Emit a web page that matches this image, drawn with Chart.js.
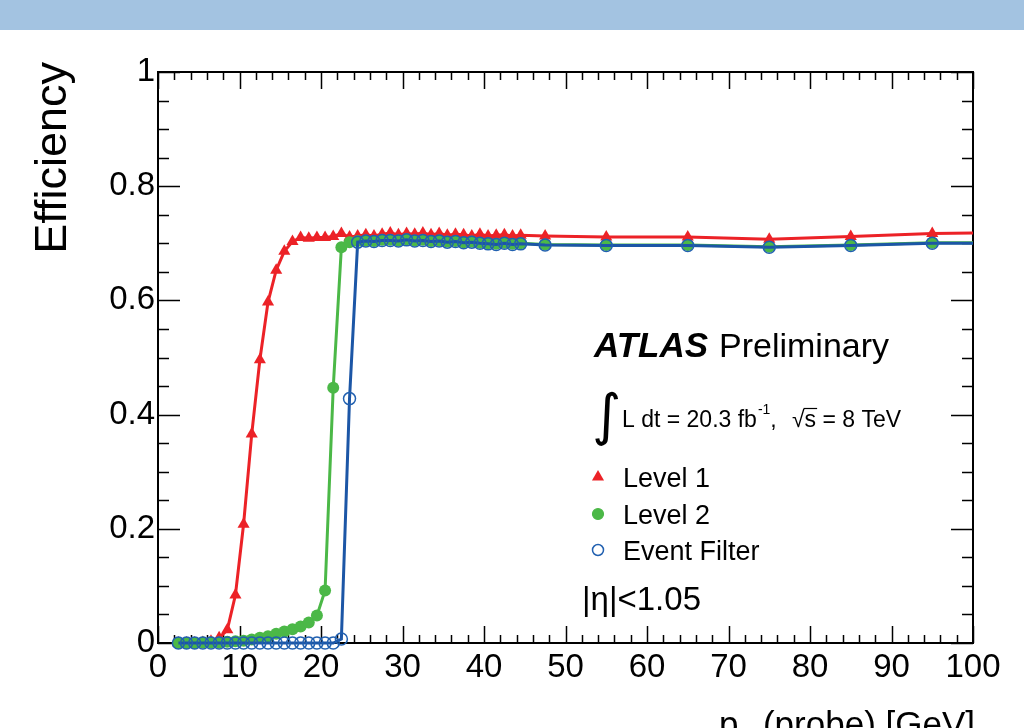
<!DOCTYPE html>
<html lang="en">
<head>
    <meta charset="UTF-8">
    <title>Trigger efficiency vs probe pT</title>
    <script src="https://cdn.jsdelivr.net/npm/chart.js"></script>
    <style>
        html, body { margin: 0; padding: 0; background: #fff; }
        .band { position: absolute; left: 0; top: 0; width: 1024px; height: 30px; background: #a3c3e1; }
        .wrap { position: absolute; left: 0; top: 0; width: 1024px; height: 728px; }
    </style>
</head>
<body>
<div class="band"></div>
<div class="wrap"><canvas id="effChart" width="1024" height="728"></canvas></div>

<script>
    // bin centres in GeV (last entry = right edge of the last bin, line only)
    const ptBins = [
        2.5, 3.5, 4.5, 5.5, 6.5, 7.5, 8.5, 9.5, 10.5, 11.5,
        12.5, 13.5, 14.5, 15.5, 16.5, 17.5, 18.5, 19.5, 20.5, 21.5,
        22.5, 23.5, 24.5, 25.5, 26.5, 27.5, 28.5, 29.5, 30.5, 31.5,
        32.5, 33.5, 34.5, 35.5, 36.5, 37.5, 38.5, 39.5, 40.5, 41.5,
        42.5, 43.5, 44.5, 47.5, 55, 65, 75, 85, 95, 100
    ];

    const level1 = [
        0.000, 0.000, 0.000, 0.001, 0.003, 0.009, 0.023, 0.084, 0.208, 0.366,
        0.496, 0.597, 0.653, 0.686, 0.703, 0.710, 0.709, 0.710, 0.710, 0.712,
        0.717, 0.711, 0.713, 0.715, 0.713, 0.716, 0.718, 0.715, 0.717, 0.716,
        0.718, 0.715, 0.717, 0.714, 0.716, 0.715, 0.713, 0.716, 0.713, 0.714,
        0.715, 0.713, 0.714, 0.713, 0.711, 0.711, 0.707, 0.712, 0.717, 0.718
    ];

    const level2 = [
        0.000, 0.000, 0.000, 0.001, 0.001, 0.001, 0.002, 0.003, 0.004, 0.006,
        0.009, 0.012, 0.016, 0.020, 0.024, 0.029, 0.036, 0.048, 0.092, 0.447,
        0.693, 0.702, 0.704, 0.705, 0.704, 0.706, 0.706, 0.705, 0.707, 0.705,
        0.706, 0.704, 0.705, 0.703, 0.704, 0.702, 0.703, 0.701, 0.700, 0.699,
        0.701, 0.699, 0.700, 0.698, 0.697, 0.697, 0.694, 0.697, 0.701, 0.701
    ];

    const eventFilter = [
        0.000, 0.000, 0.000, 0.000, 0.000, 0.000, 0.000, 0.000, 0.000, 0.000,
        0.000, 0.000, 0.000, 0.000, 0.000, 0.000, 0.000, 0.000, 0.000, 0.000,
        0.007, 0.428, 0.702, 0.704, 0.703, 0.705, 0.705, 0.704, 0.706, 0.704,
        0.705, 0.703, 0.704, 0.702, 0.703, 0.701, 0.702, 0.700, 0.699, 0.698,
        0.700, 0.698, 0.699, 0.697, 0.696, 0.696, 0.693, 0.696, 0.700, 0.700
    ];

    const seriesNames = ['Level 1', 'Level 2', 'Event Filter'];
    const xRange = [0, 100];
    const yRange = [0, 1];
    const xMajor = 10, xMinor = 2;
    const yMajor = 0.2, yMinor = 0.05;

    const RED = '#ec2227';
    const GREEN = '#4bb847';
    const BLUE = '#1c56a6';
    const FONT = "'Liberation Sans', Arial, sans-serif";

    const toPoints = ys => ptBins.map((x, i) => ({ x: x, y: ys[i] }));
    const markerSize = r => c => (c.dataIndex === ptBins.length - 1 ? 0 : r);
    const rootLabel = v => String(parseFloat(Number(v).toFixed(2)));

    // ROOT style frame with inward ticks on all four sides
    const rootFrame = {
        id: 'rootFrame',
        beforeDatasetsDraw(chart) {
            const { ctx, chartArea: a, scales: { x, y } } = chart;
            ctx.save();
            ctx.strokeStyle = '#000';
            ctx.lineWidth = 2;
            ctx.strokeRect(a.left, a.top, a.right - a.left, a.bottom - a.top);
            ctx.lineWidth = 1.5;
            ctx.beginPath();
            const nx = Math.round((xRange[1] - xRange[0]) / xMinor);
            for (let k = 0; k <= nx; k++) {
                const v = xRange[0] + k * xMinor;
                const px = Math.round(x.getPixelForValue(v)) + 0.5;
                const len = (k % (xMajor / xMinor) === 0) ? 17 : 8;
                ctx.moveTo(px, a.bottom); ctx.lineTo(px, a.bottom - len);
                ctx.moveTo(px, a.top); ctx.lineTo(px, a.top + len);
            }
            const ny = Math.round((yRange[1] - yRange[0]) / yMinor);
            for (let k = 0; k <= ny; k++) {
                const v = yRange[0] + k * yMinor;
                const py = Math.round(y.getPixelForValue(v)) + 0.5;
                const len = (k % Math.round(yMajor / yMinor) === 0) ? 22 : 11;
                ctx.moveTo(a.left, py); ctx.lineTo(a.left + len, py);
                ctx.moveTo(a.right, py); ctx.lineTo(a.right - len, py);
            }
            ctx.stroke();
            ctx.restore();
        }
    };

    // titles, ATLAS label and the legend
    const atlasText = {
        id: 'atlasText',
        afterDraw(chart) {
            const { ctx } = chart;
            const ds = chart.data.datasets;
            ctx.save();
            ctx.fillStyle = '#000';
            ctx.strokeStyle = '#000';
            ctx.textBaseline = 'alphabetic';

            // y title
            ctx.save();
            ctx.translate(66, 62);
            ctx.rotate(-Math.PI / 2);
            ctx.textAlign = 'right';
            ctx.font = '45px ' + FONT;
            ctx.fillText('Efficiency', 0, 0);
            ctx.restore();

            // x title (runs off the bottom, as in the original)
            ctx.textAlign = 'left';
            ctx.font = '35px ' + FONT;
            const rest = ' (probe) [GeV]';
            const wRest = ctx.measureText(rest).width;
            const xEnd = 975;
            ctx.fillText(rest, xEnd - wRest, 736);
            ctx.font = '24px ' + FONT;
            const wT = ctx.measureText('T').width;
            ctx.fillText('T', xEnd - wRest - wT, 746);
            ctx.font = '35px ' + FONT;
            const wp = ctx.measureText('p').width;
            ctx.fillText('p', xEnd - wRest - wT - wp, 736);

            // ATLAS Preliminary
            ctx.font = 'italic bold 35px ' + FONT;
            ctx.fillText('ATLAS', 594, 357);
            ctx.font = '34px ' + FONT;
            ctx.fillText('Preliminary', 719, 357);

            // luminosity line
            ctx.font = '56px "DejaVu Sans", sans-serif';
            ctx.fillText('\u222B', 592, 434);
            let cx = 622;
            ctx.font = '23px ' + FONT;
            ctx.fillText('L dt = 20.3 fb', cx, 427);
            cx += ctx.measureText('L dt = 20.3 fb').width;
            ctx.font = '14px ' + FONT;
            ctx.fillText('-1', cx + 1, 414);
            cx += ctx.measureText('-1').width + 1;
            ctx.font = '23px ' + FONT;
            ctx.fillText(',', cx, 427);
            cx = 792;
            ctx.fillText('\u221A', cx, 427);
            const wr = ctx.measureText('\u221A').width;
            ctx.fillText('s', cx + wr, 427);
            const ws = ctx.measureText('s').width;
            ctx.lineWidth = 1.2;
            ctx.beginPath();
            ctx.moveTo(cx + wr - 1, 408.5); ctx.lineTo(cx + wr + ws + 1, 408.5);
            ctx.stroke();
            ctx.fillText(' = 8 TeV', cx + wr + ws, 427);

            // legend
            const rows = [477, 514, 550];
            ctx.font = '27px ' + FONT;
            rows.forEach((ry, i) => {
                const d = ds[i];
                ctx.save();
                ctx.fillStyle = d.pointBackgroundColor;
                ctx.strokeStyle = d.pointBorderColor;
                ctx.lineWidth = d.pointBorderWidth;
                ctx.beginPath();
                if (d.pointStyle === 'triangle') {
                    const r = 7;
                    ctx.moveTo(598, ry - r);
                    ctx.lineTo(598 + r * 0.866, ry + r * 0.5);
                    ctx.lineTo(598 - r * 0.866, ry + r * 0.5);
                    ctx.closePath();
                    ctx.fill();
                } else {
                    ctx.arc(598, ry, 5.5, 0, Math.PI * 2);
                    ctx.fill();
                    ctx.stroke();
                }
                ctx.restore();
                ctx.fillText(seriesNames[i], 623, ry + 10);
            });

            // eta range
            ctx.font = '33px ' + FONT;
            ctx.fillText('|\u03B7|<1.05', 582, 610);
            ctx.restore();
        }
    };

    new Chart(document.getElementById('effChart'), {
        type: 'line',
        data: {
            datasets: [
                {
                    label: seriesNames[0],
                    data: toPoints(level1),
                    borderColor: RED,
                    borderWidth: 3,
                    pointStyle: 'triangle',
                    pointRadius: markerSize(7),
                    pointBackgroundColor: RED,
                    pointBorderColor: RED,
                    pointBorderWidth: 0,
                    order: 3,
                    clip: false
                },
                {
                    label: seriesNames[1],
                    data: toPoints(level2),
                    borderColor: GREEN,
                    borderWidth: 3,
                    pointStyle: 'circle',
                    pointRadius: markerSize(6),
                    pointBackgroundColor: GREEN,
                    pointBorderColor: GREEN,
                    pointBorderWidth: 0,
                    order: 2,
                    clip: false
                },
                {
                    label: seriesNames[2],
                    data: toPoints(eventFilter),
                    borderColor: BLUE,
                    borderWidth: 3,
                    pointStyle: 'circle',
                    pointRadius: markerSize(6),
                    pointBackgroundColor: 'rgba(0,0,0,0)',
                    pointBorderColor: '#2160b0',
                    pointBorderWidth: 1.5,
                    order: 1,
                    clip: false
                }
            ]
        },
        options: {
            responsive: false,
            animation: false,
            events: [],
            layout: { padding: { top: 72, right: 51, left: 0, bottom: 0 } },
            plugins: { legend: { display: false }, tooltip: { enabled: false } },
            scales: {
                x: {
                    type: 'linear',
                    min: xRange[0],
                    max: xRange[1],
                    grid: { display: false, drawTicks: false },
                    border: { display: false },
                    ticks: {
                        stepSize: xMajor,
                        padding: 5,
                        color: '#000',
                        maxRotation: 0,
                        font: { family: FONT, size: 33 },
                        callback: rootLabel
                    },
                    afterFit(s) { s.height = 85; }
                },
                y: {
                    min: yRange[0],
                    max: yRange[1],
                    grid: { display: false, drawTicks: false },
                    border: { display: false },
                    ticks: {
                        stepSize: yMajor,
                        padding: 3,
                        color: '#000',
                        font: { family: FONT, size: 33 },
                        callback: rootLabel
                    },
                    afterFit(s) { s.width = 158; }
                }
            }
        },
        plugins: [rootFrame, atlasText]
    });
</script>
</body>
</html>
